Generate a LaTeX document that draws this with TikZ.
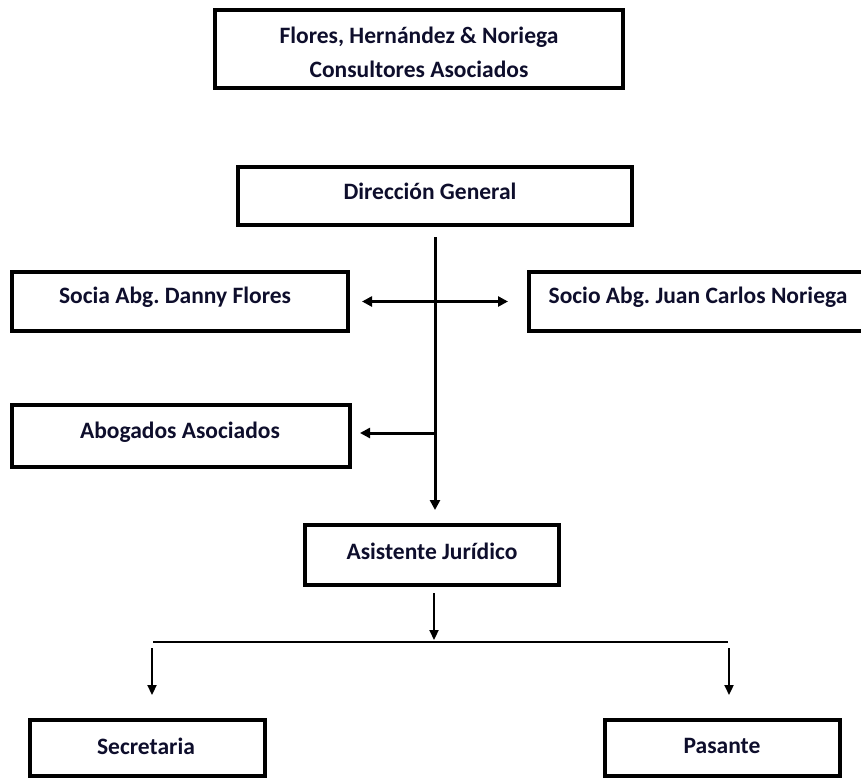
\documentclass[tikz,border=0pt]{standalone}
\usepackage{fontspec}
\setmainfont{Carlito}
\usetikzlibrary{arrows.meta,calc}
\definecolor{txt}{RGB}{14,14,44}
\frenchspacing
\begin{document}
\begin{tikzpicture}[x=1pt,y=-1pt,
  box/.style={draw=black,line width=3.6pt,fill=white,inner sep=0pt,outer sep=0pt},
  lbl/.style={font=\fontsize{23.5}{28}\selectfont\bfseries,text=txt,inner sep=0pt,align=center},
  arr/.style={line width=3pt,-{Triangle[length=10pt,width=10pt]}},
  darr/.style={line width=3pt,{Triangle[length=10pt,width=10pt]}-{Triangle[length=10pt,width=10pt]}},
  sarr/.style={line width=2.2pt,-{Triangle[length=10pt,width=9pt]}},
  hline/.style={line width=2.6pt}]
\clip (0,0) rectangle (861,779);
\fill[white] (0,0) rectangle (861,779);
% boxes
\node[box,minimum width=408pt,minimum height=78pt] (top) at (419,49) {};
\node[box,minimum width=394pt,minimum height=58pt] (dir) at (435,196) {};
\node[box,minimum width=336pt,minimum height=59pt] (socia) at (180,301.5) {};
\node[box,minimum width=342pt,minimum height=59pt] (socio) at (700,301.5) {};
\node[box,minimum width=338pt,minimum height=62pt] (abog) at (181,436) {};
\node[box,minimum width=254pt,minimum height=60pt] (asis) at (432,555) {};
\node[box,minimum width=235pt,minimum height=56pt] (sec) at (147.5,748) {};
\node[box,minimum width=235pt,minimum height=56pt] (pas) at (722.5,748) {};
% labels
\node[lbl] (ttop1) at (419,37) {Flores, Hernández \& Noriega};
\node[lbl] (ttop2) at (419,69) {Consultores Asociados};
\node[lbl] (tdir) at (430,191) {Dirección General};
\node[lbl] (tsocia) at (175,297) {Socia Abg. Danny Flores};
\node[lbl] (tsocio) at (698,297) {Socio Abg. Juan Carlos Noriega};
\node[lbl] (tabog) at (180,432) {Abogados Asociados};
\node[lbl] (tasis) at (432,551) {Asistente Jurídico};
\node[lbl] (tsec) at (146,746) {Secretaria};
\node[lbl] (tpas) at (722,746) {Pasante};
% connectors
\coordinate (vtop) at ($(dir.south)+(0,12)$);
\coordinate (vbot) at ($(dir.south |- asis.north)+(0,-15)$);
\draw[arr] (vtop) -- (vbot);
\draw[darr] ($(socia.east)+(14,0)$) -- ($(socio.west)+(-21,0)$);
\coordinate (jab) at ($(dir.south |- abog.east)+(0,-3)$);
\draw[arr] (jab) -- ($(abog.east)+(10,-3)$);
\coordinate (hb) at ($(asis.south)+(2,57)$);
\draw[sarr] ($(asis.south)+(2,8)$) -- ($(hb)+(0,-2)$);
\coordinate (hl) at ($(sec.north)+(5.5,-78)$);
\coordinate (hr) at ($(pas.north)+(5.5,-78)$);
\draw[hline] (hl) -- (hr);
\draw[sarr] ($(sec.north)+(4.5,-72)$) -- ($(sec.north)+(4.5,-25)$);
\draw[sarr] ($(pas.north)+(6.5,-72)$) -- ($(pas.north)+(6.5,-25)$);
\end{tikzpicture}
\end{document}
